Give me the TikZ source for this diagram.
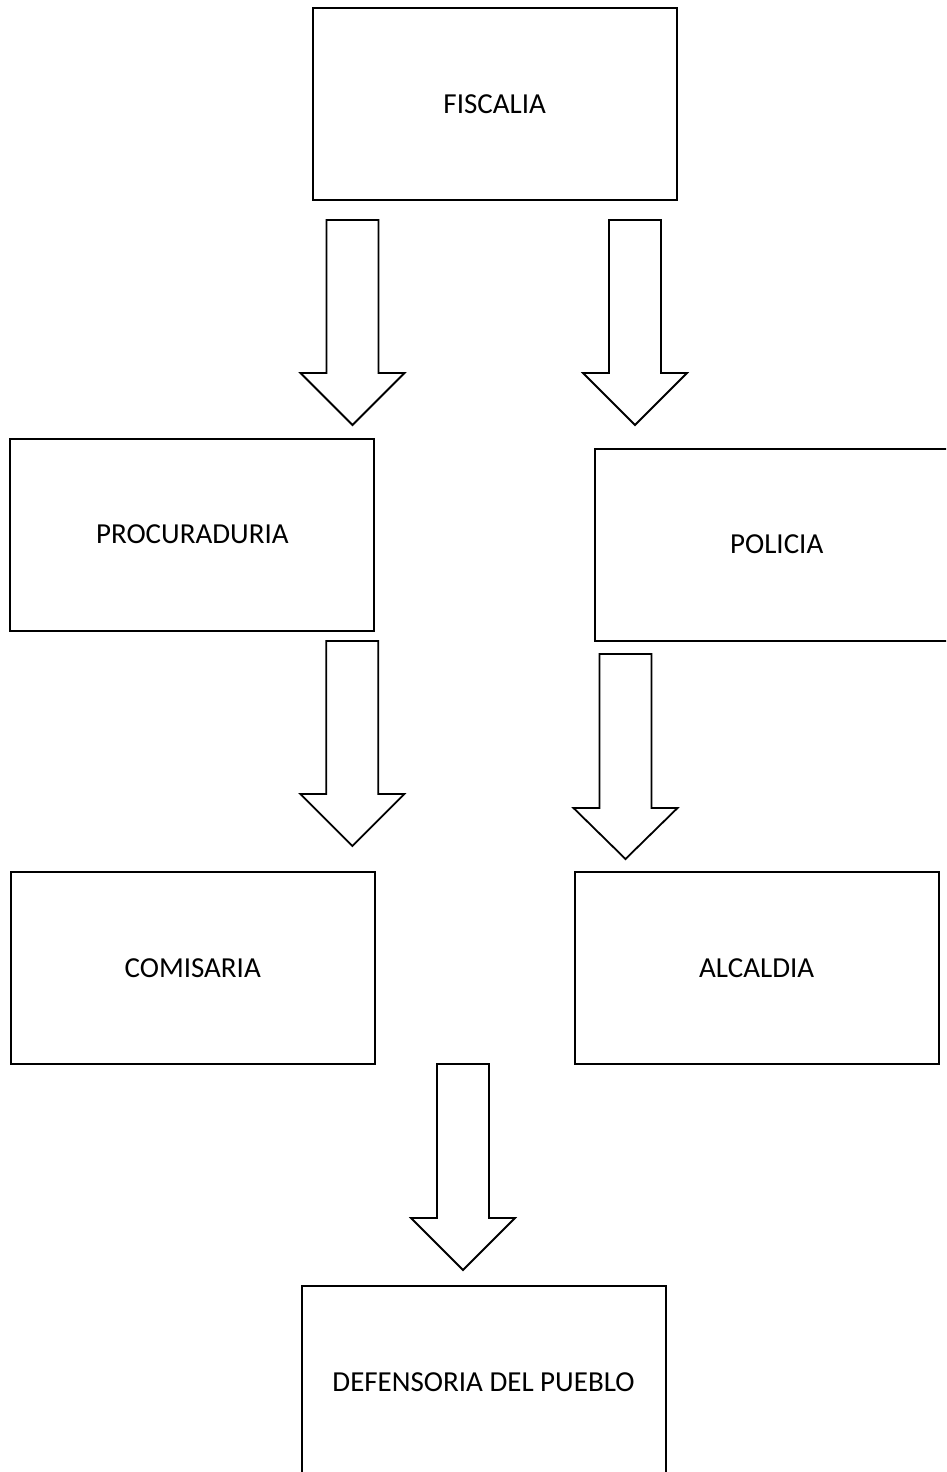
\documentclass[tikz,border=0pt]{standalone}
\usepackage{fontspec}
\setmainfont{Carlito}
\begin{document}
\begin{tikzpicture}[x=1pt,y=-1pt,
  box/.style={draw=black,line width=2pt,minimum width=364pt,minimum height=192pt,inner sep=0pt,font=\fontsize{29}{35}\selectfont},
  blockarr/.style={draw=black,line width=1.8pt,fill=white,line join=miter}]
\useasboundingbox (0,0) rectangle (946,1472);
\clip (0,0) rectangle (946,1472);
\newcommand\blockarrow[4]{% center x, top, shoulder, tip
  \draw[blockarr] (#1-26,#2) -- (#1+26,#2) -- (#1+26,#3) -- (#1+52,#3) -- (#1,#4) -- (#1-52,#3) -- (#1-26,#3) -- cycle;}
\node[box] (fis) at (494.7,104) {\raisebox{-1.5pt}{FISCALIA}};
\node[box] (pro) at (192.3,534.5) {\raisebox{-1.5pt}{PROCURADURIA}};
\node[box] (pol) at (776.7,544.5) {\raisebox{-1.5pt}{POLICIA}};
\node[box] (com) at (192.7,968.3) {\raisebox{-1.5pt}{COMISARIA}};
\node[box] (alc) at (756.7,968.3) {\raisebox{-1.5pt}{ALCALDIA}};
\node[box] (def) at (483.5,1382) {\raisebox{-1.5pt}{DEFENSORIA DEL PUEBLO}};
\blockarrow{352.5}{220}{373}{425}
\blockarrow{635}{220}{373}{425}
\blockarrow{352.3}{641}{794}{846}
\blockarrow{625.5}{654}{808}{859}
\blockarrow{463}{1064}{1218}{1270}
\end{tikzpicture}
\end{document}
